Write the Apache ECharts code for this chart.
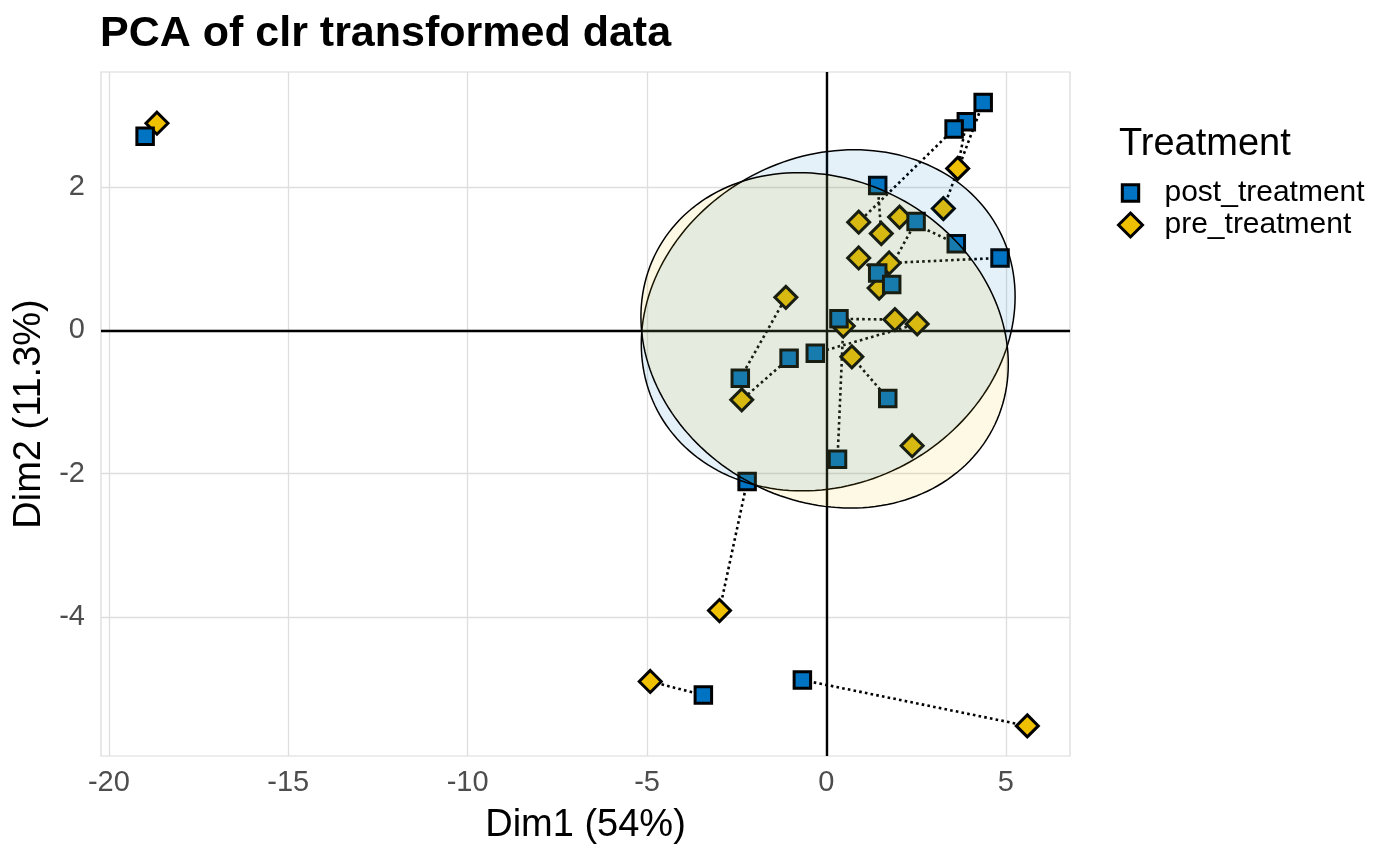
<!DOCTYPE html>
<html>
<head>
<meta charset="utf-8">
<script src="https://cdn.jsdelivr.net/npm/echarts@6/dist/echarts.min.js"></script>
<style>
html,body{margin:0;padding:0;background:#fff;}
#c{width:1400px;height:860px;}
</style>
</head>
<body>
<div id="c"></div>
<script>
// ---- data ----
const groups = ['post_treatment', 'pre_treatment'];
const postX = [-18.99, 4.37, 3.90, 3.56, 1.43, 3.62, 2.50, 4.84, 1.43, -2.40, -1.04, 0.35, -0.31, 1.71, 0.31, -2.21, -3.43, -0.67, 1.82];
const postY = [2.71, 3.18, 2.91, 2.81, 2.02, 1.21, 1.52, 1.01, 0.80, -0.67, -0.39, 0.16, -0.32, -0.95, -1.80, -2.11, -5.09, -4.88, 0.64];
const preX = [-18.66, 3.26, 3.66, 0.90, 1.53, 2.04, 1.47, 1.75, 0.90, -1.13, -2.36, 1.91, 2.53, 0.71, 0.47, -2.98, -4.91, 5.60, 2.39];
const preY = [2.89, 1.70, 2.26, 1.51, 1.35, 1.58, 0.59, 0.94, 1.01, 0.46, -0.97, 0.15, 0.09, -0.37, 0.06, -3.91, -4.90, -5.52, -1.61];
// paired samples (index into post arrays, index into pre arrays)
const pairPost = [0, 1, 2, 3, 4, 5, 6, 7, 8, 9, 10, 11, 12, 13, 14, 15, 16, 17];
const pairPre  = [0, 1, 2, 3, 4, 5, 6, 7, 8, 9, 10, 11, 12, 13, 14, 15, 16, 17];
// confidence ellipses (post, pre): centre, half width, half height, tilt
const ellCX = [0.05, -0.05];
const ellCY = [0.14, -0.14];
const ellHalfW = [5.21, 5.12];
const ellHalfH = [2.38, 2.34];
const ellTilt = [0.33, -0.33];
// axes
const xTicks = [-20, -15, -10, -5, 0, 5];
const yTicks = [-4, -2, 0, 2];
const xRange = [-20.22, 6.79];
const yRange = [-5.94, 3.605];

const FONT = 'Liberation Sans, Arial, Helvetica, sans-serif';
const colPost = '#0073C2';
const colPre = '#EFC000';
const ellFill = ['rgba(0,115,194,0.1)', 'rgba(239,192,0,0.1)'];

function ellipseSeries(i) {
  return {
    type: 'custom',
    name: 'ellipse_' + groups[i],
    coordinateSystem: 'cartesian2d',
    z: 5,
    silent: true,
    data: [[ellCX[i], ellCY[i], i]],
    renderItem: function (params, api) {
      const k = api.value(2);
      const b = Math.sqrt(ellHalfH[k] * ellHalfH[k] - ellTilt[k] * ellTilt[k]);
      const pts = [];
      const N = 180;
      for (let s = 0; s < N; s++) {
        const t = 2 * Math.PI * s / N;
        pts.push(api.coord([
          ellCX[k] + ellHalfW[k] * Math.cos(t),
          ellCY[k] + ellTilt[k] * Math.cos(t) + b * Math.sin(t)
        ]));
      }
      return {
        type: 'polygon',
        shape: { points: pts },
        style: { fill: ellFill[k], stroke: '#000', lineWidth: 1.5 }
      };
    }
  };
}

const squareIcon = 'path://M0,0M24,24M3.8,3.8L20.2,3.8L20.2,20.2L3.8,20.2Z';

const chart = echarts.init(document.getElementById('c'), null, { renderer: 'canvas' });
chart.setOption({
  animation: false,
  backgroundColor: '#fff',
  textStyle: { fontFamily: FONT },
  title: [
    { text: 'PCA of clr transformed data', left: 100, top: 13, padding: 0,
      textStyle: { fontSize: 43, fontWeight: 'bold', color: '#000', fontFamily: FONT } },
    { text: 'Treatment', left: 1119, top: 126, padding: 0,
      textStyle: { fontSize: 38, fontWeight: 'normal', color: '#000', fontFamily: FONT } }
  ],
  legend: {
    orient: 'vertical', left: 1117, top: 178, padding: 0,
    itemWidth: 24, itemHeight: 24, itemGap: 2,
    itemStyle: { borderColor: '#000', borderWidth: 3 },
    textStyle: { fontSize: 30, color: '#000', fontFamily: FONT, padding: [0, 0, 0, 17], lineHeight: 30 },
    data: [
      { name: groups[0], icon: squareIcon },
      { name: groups[1], icon: 'diamond' }
    ]
  },
  grid: {
    left: 101, right: 330, top: 72, bottom: 104,
    show: true, borderColor: '#D9D9D9', borderWidth: 1.2, backgroundColor: 'transparent'
  },
  xAxis: {
    type: 'value', min: xRange[0], max: xRange[1],
    axisLine: { show: false },
    axisTick: { show: false, customValues: xTicks },
    axisLabel: { customValues: xTicks, fontSize: 29, color: '#4D4D4D', margin: 12, fontFamily: FONT },
    splitLine: { show: true, lineStyle: { color: '#DEDEDE', width: 1.3 } },
    name: 'Dim1 (54%)', nameLocation: 'middle', nameGap: 51,
    nameTextStyle: { fontSize: 38, color: '#000', fontFamily: FONT }
  },
  yAxis: {
    type: 'value', min: yRange[0], max: yRange[1],
    axisLine: { show: false },
    axisTick: { show: false, customValues: yTicks },
    axisLabel: { customValues: yTicks, fontSize: 29, color: '#4D4D4D', margin: 16, fontFamily: FONT },
    splitLine: { show: true, lineStyle: { color: '#DEDEDE', width: 1.3 } },
    name: 'Dim2 (11.3%)', nameLocation: 'middle', nameGap: 52,
    nameTextStyle: { fontSize: 38, color: '#000', fontFamily: FONT }
  },
  series: [
    {
      type: 'lines', name: 'pairs', coordinateSystem: 'cartesian2d', z: 2, silent: true,
      lineStyle: { color: '#000', width: 2.6, type: [2.6, 3.2], opacity: 1, curveness: 0 },
      data: pairPost.map(function (p, k) {
        const q = pairPre[k];
        return { coords: [[postX[p], postY[p]], [preX[q], preY[q]]] };
      }),
      markLine: {
        silent: true, z: 2, symbol: ['none', 'none'], label: { show: false },
        lineStyle: { color: '#000', width: 2.4, type: 'solid' },
        emphasis: { disabled: true },
        data: [{ xAxis: 0 }, { yAxis: 0 }]
      }
    },
    {
      type: 'scatter', name: groups[1], z: 3, symbol: 'diamond', symbolSize: 22,
      itemStyle: { color: colPre, borderColor: '#000', borderWidth: 3, opacity: 1 },
      emphasis: { disabled: true },
      data: preX.map(function (x, i) { return [x, preY[i]]; })
    },
    {
      type: 'scatter', name: groups[0], z: 3, symbol: 'rect', symbolSize: 16.5,
      itemStyle: { color: colPost, borderColor: '#000', borderWidth: 3, opacity: 1 },
      emphasis: { disabled: true },
      data: postX.map(function (x, i) { return [x, postY[i]]; })
    },
    ellipseSeries(0),
    ellipseSeries(1)
  ]
});
</script>
</body>
</html>
